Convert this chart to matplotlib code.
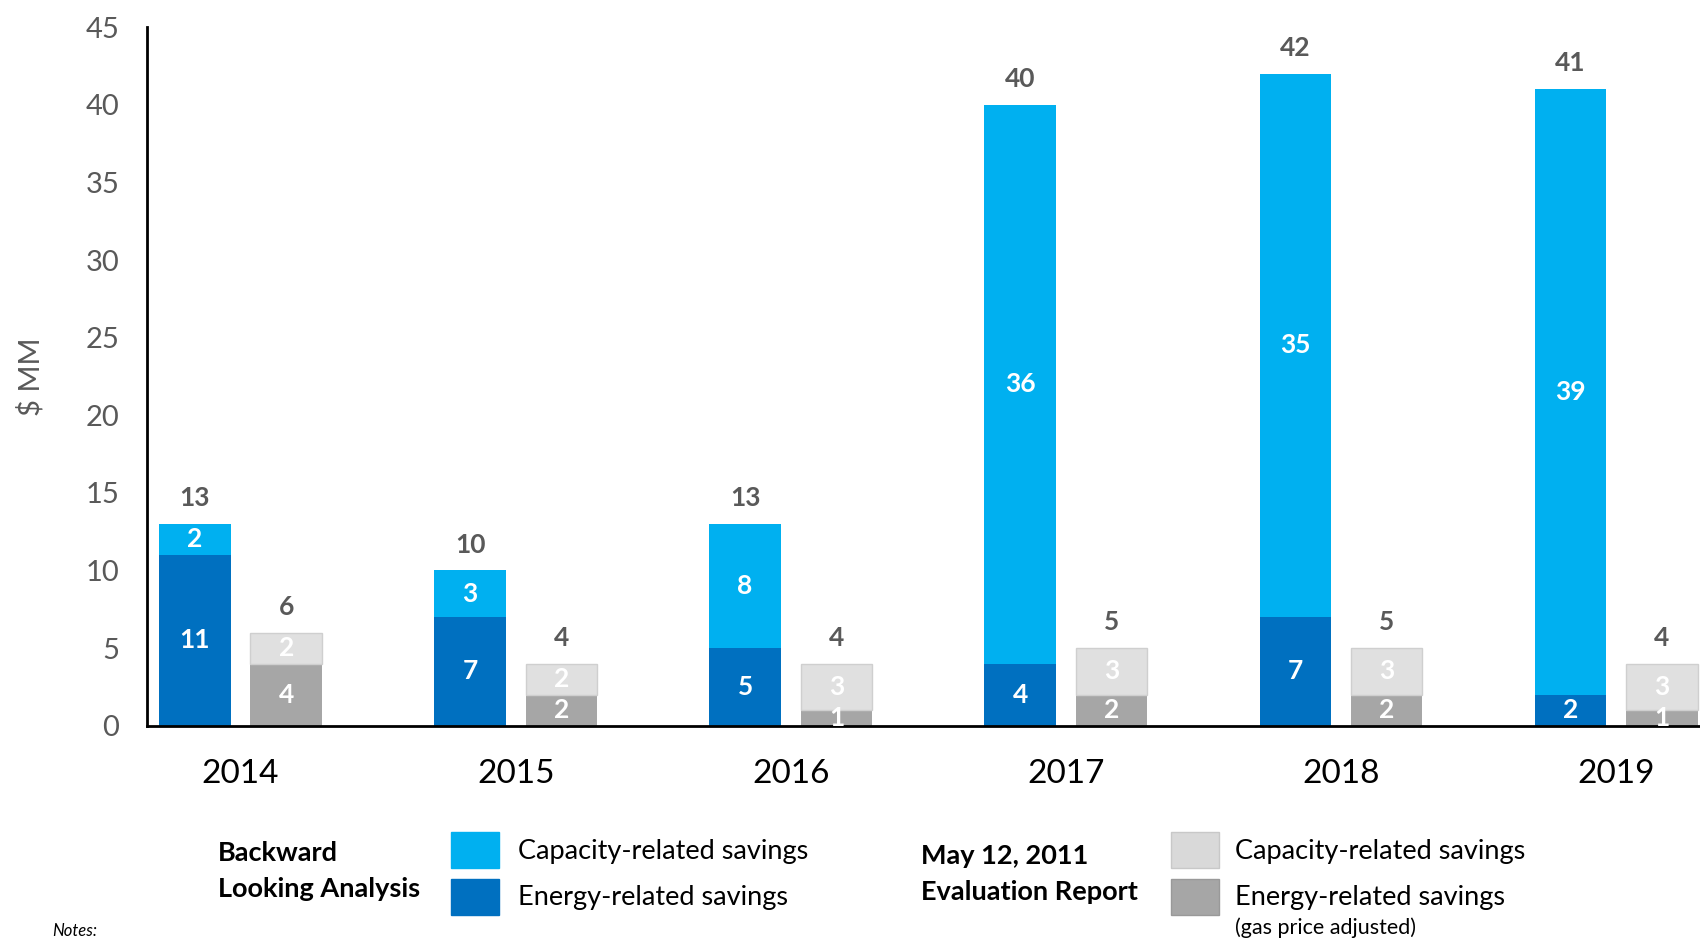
import numpy as np
import matplotlib
matplotlib.use("Agg")
import matplotlib.pyplot as plt
from matplotlib.patches import Rectangle

plt.rcParams['font.family'] = ['Lato', 'DejaVu Sans']

# === data ===
years = ['2014', '2015', '2016', '2017', '2018', '2019']
bl_energy = [11, 7, 5, 4, 7, 2]        # Backward Looking Analysis
bl_capacity = [2, 3, 8, 36, 35, 39]
bl_total = [13, 10, 13, 40, 42, 41]
ev_energy = [4, 2, 1, 2, 2, 1]         # May 12, 2011 Evaluation Report
ev_capacity = [2, 2, 3, 3, 3, 3]
ev_total = [6, 4, 4, 5, 5, 4]

C_LBLUE = '#00B0F0'
C_DBLUE = '#0070C0'
C_LGRAY = '#E0E0E0'
C_DGRAY = '#A6A6A6'
TXT_GRAY = '#595959'

fig = plt.figure(figsize=(17, 9.4), dpi=100)
ax = fig.add_axes([0.0865, 0.228, 0.9135, 0.743])

x = np.arange(len(years))
w = 0.26
off = 0.166

b1 = ax.bar(x - off, bl_energy, w, color=C_DBLUE)
b2 = ax.bar(x - off, bl_capacity, w, bottom=bl_energy, color=C_LBLUE)
g1 = ax.bar(x + off, ev_energy, w, color=C_DGRAY)
g2 = ax.bar(x + off, ev_capacity, w, bottom=ev_energy, color=C_LGRAY,
            edgecolor='#CFCFCF', linewidth=1)

# labels inside segments
for bars, vals, bottoms in [(b1, bl_energy, [0]*6), (b2, bl_capacity, bl_energy),
                            (g1, ev_energy, [0]*6), (g2, ev_capacity, ev_energy)]:
    for r, v, b in zip(bars, vals, bottoms):
        ax.text(r.get_x() + r.get_width() / 2, b + v / 2, str(v),
                ha='center', va='center', color='white', fontsize=19,
                fontweight='bold', clip_on=False)

# totals
for xs, tots in [(x - off, bl_total), (x + off, ev_total)]:
    for xi, t in zip(xs, tots):
        ax.annotate(str(t), (xi, t), xytext=(0, 10), textcoords='offset points',
                    ha='center', va='bottom', color=TXT_GRAY, fontsize=19,
                    fontweight='bold')

ax.set_xlim(-0.34, 5.305)
ax.set_ylim(0, 45)
ax.set_yticks(range(0, 46, 5))
ax.set_xticks(x)
ax.set_xticklabels(years, fontsize=24, color='black')
ax.tick_params(axis='y', labelsize=21, labelcolor=TXT_GRAY, length=0, pad=20)
ax.tick_params(axis='x', length=0, pad=24)
for s in ['top', 'right']:
    ax.spines[s].set_visible(False)
for s in ['left', 'bottom']:
    ax.spines[s].set_linewidth(2)
    ax.spines[s].set_color('black')
ax.set_ylabel('$ MM', fontsize=21, color=TXT_GRAY)
ax.yaxis.set_label_coords(-0.066, 0.5)

# === custom legend ===
def fx(px):
    return px / 1700

def fy(py):
    return 1 - py / 940

fig.text(fx(218), fy(853), 'Backward', fontsize=19.5, fontweight='bold', va='center')
fig.text(fx(218), fy(889), 'Looking Analysis', fontsize=19.5, fontweight='bold', va='center')
fig.text(fx(921), fy(856), 'May 12, 2011', fontsize=19.5, fontweight='bold', va='center')
fig.text(fx(921), fy(892), 'Evaluation Report', fontsize=19.5, fontweight='bold', va='center')

patches = [(451, 832, C_LBLUE, None), (451, 879, C_DBLUE, None),
           (1171, 832, '#D9D9D9', '#C8C8C8'), (1171, 879, C_DGRAY, '#999999')]
for px, py, c, ec in patches:
    fig.patches.append(Rectangle((fx(px), fy(py + 36)), fx(48), 36 / 940,
                                 transform=fig.transFigure, facecolor=c,
                                 edgecolor=ec if ec else c, linewidth=1))

fig.text(fx(518), fy(851), 'Capacity-related savings', fontsize=19.5, va='center')
fig.text(fx(518), fy(898), 'Energy-related savings', fontsize=19.5, va='center')
fig.text(fx(1235), fy(851), 'Capacity-related savings', fontsize=19.5, va='center')
fig.text(fx(1235), fy(898), 'Energy-related savings', fontsize=19.5, va='center')
fig.text(fx(1235), fy(928), '(gas price adjusted)', fontsize=15.5, va='center')
fig.text(fx(52), fy(939), 'Notes:', fontsize=12, style='italic', va='bottom')

fig.savefig('out.png', dpi=100)
